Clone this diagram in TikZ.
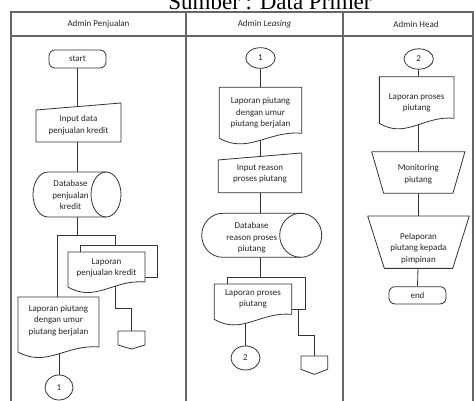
\documentclass[tikz,border=0pt]{standalone}
\usepackage{fontspec}
\setmainfont{Carlito}
\newfontfamily\titlefont{Liberation Serif}
\usetikzlibrary{calc,shapes.geometric}
\pgfdeclarelayer{bg}
\pgfdeclarelayer{shp}
\pgfsetlayers{bg,shp,main}
\tikzset{
  ln/.style={draw=black!80, line width=0.8pt},
  tbl/.style={draw=black!60, line width=1.3pt},
  txt/.style={font=\fontsize{9}{11.5}\selectfont, align=center, inner sep=0pt, text=black!85},
  area/.style 2 args={minimum width=#1pt, minimum height=#2pt, inner sep=0pt, outer sep=0pt},
  term/.style={txt, ln, fill=white, rounded corners=6pt, minimum width=57pt, minimum height=18pt},
  conn/.style={txt, ellipse, ln, fill=white, inner sep=0pt},
  fshape/.style={ln, fill=white, line join=round},
}
\newcommand\docshape[1]{%
  \path[fshape] (#1.north west) -- (#1.north east) -- ([yshift=5pt]#1.south east)
   .. controls ($(#1.south east)!0.4!(#1.south west)+(0pt,8pt)$) and ($(#1.south west)!0.35!(#1.south east)+(0pt,-16pt)$) .. (#1.south west) -- cycle;}
\newcommand\inshape[1]{\path[fshape] (#1.south west) -- ([yshift=-7pt]#1.north west) -- (#1.north east) -- (#1.south east) -- cycle;}
\newcommand\trapshape[2]{\path[fshape] (#1.north west) -- (#1.north east) -- ([xshift=-#2pt]#1.south east) -- ([xshift=#2pt]#1.south west) -- cycle;}
\newcommand\offshape[2]{\path[fshape] (#1.north west) -- (#1.north east) -- ([yshift=#2pt]#1.south east) -- (#1.south) -- ([yshift=#2pt]#1.south west) -- cycle;}
\newcommand\cylshape[2]{%
  \path[fshape] let \p1=(#1.north west), \p2=(#1.south east), \n1={(\y1-\y2)/2} in
   (\x1+#2pt,\y1) arc[start angle=90, end angle=270, x radius=#2pt, y radius=\n1]
   -- (\x2-#2pt,\y2) arc[start angle=-90, end angle=90, x radius=#2pt, y radius=\n1] -- cycle;
  \path[ln] let \p1=(#1.north west), \p2=(#1.south east), \n1={(\y1-\y2)/2} in
   (\x2-#2pt,\y1) arc[start angle=90, end angle=270, x radius=#2pt, y radius=\n1];}
\begin{document}
\begin{tikzpicture}[x=1pt,y=-1pt]
\useasboundingbox (0,0) rectangle (474,401);
\clip (0,0) rectangle (474,401);
% title (clipped)
\node[font=\titlefont\fontsize{23}{23}\selectfont, anchor=base, inner sep=0pt] (title) at (270,10) {Sumber : Data Primer};
% table
\draw[tbl] (11,410) -- (11,12) -- (473,12) -- (473,410);
\draw[tbl] (11,36) -- (473,36);
\draw[tbl] (186,12) -- (186,410);
\draw[tbl] (343,12) -- (343,410);
\node[txt] (h1) at (98.5,24) {Admin Penjualan};
\node[txt] (h2) at (264.5,24) {Admin \textit{Leasing}};
\node[txt] (h3) at (416,24) {Admin Head};

% ---- column 1
\node[term] (start) at (77.5,59) {start};
\node[area={85}{39}, label={[txt,yshift=-2.7pt]center:{Input data\\penjualan kredit}}] (in1) at (78.5,122.5) {};
\node[area={88}{45}, label={[txt,xshift=-6.5pt,yshift=-0.5pt]center:{Database\\penjualan\\kredit}}] (db1) at (77,194.5) {};
\node[area={77}{32}] (doc1b) at (118.5,261) {};
\node[area={77}{35}, label={[txt,yshift=1.5pt]center:{Laporan\\penjualan kredit}}] (doc1f) at (106.5,269.5) {};
\node[area={27}{18}] (off1) at (131.5,340) {};
\node[area={81}{55}, label={[txt,yshift=4.3pt]center:{Laporan piutang\\dengan umur\\piutang berjalan}}] (doc2) at (58.5,324.5) {};
\node[conn, minimum width=28pt, minimum height=25pt] (circ1) at (59,387.5) {1};
\coordinate (j1L) at (57,235);
\coordinate (j1R) at (115,235);
\coordinate (k1) at (131.5,308);

% ---- column 2
\node[conn, minimum width=29.4pt, minimum height=20.6pt] (c1) at (260.5,58) {1};
\node[area={82.4}{51}, label={[txt]center:{Laporan piutang\\dengan umur\\piutang berjalan}}] (doc3) at (260.5,112.8) {};
\node[area={83.4}{39.7}, label={[txt,yshift=-1.2pt]center:{Input reason\\proses piutang}}] (in2) at (260,172.8) {};
\node[area={120}{44}, label={[txt,xshift=-10pt,yshift=-2.5pt]center:{Database\\reason proses\\piutang}}] (db2) at (261.7,235.3) {};
\node[area={77.7}{32}] (doc5b) at (266.2,293.3) {};
\node[area={77.4}{35.3}, label={[txt,yshift=2.7pt]center:{Laporan proses\\piutang}}] (doc5f) at (253,301.7) {};
\node[conn, minimum width=29pt, minimum height=24pt] (c2) at (245.5,358) {2};
\node[area={26.7}{18.3}] (off2) at (314.3,365.2) {};
\coordinate (k2) at (298.3,335);

% ---- column 3
\node[conn, minimum width=29.4pt, minimum height=20.4pt] (c3) at (418.7,59) {2};
\node[area={74.7}{46.6}, label={[txt,yshift=-3pt]center:{Laporan proses\\piutang}}] (doc4) at (416.7,100) {};
\node[area={93.3}{41.6}, label={[txt,yshift=-1.5pt]center:{Monitoring\\piutang}}] (trap1) at (418.3,172.5) {};
\node[area={101.6}{52.3}, label={[txt,yshift=-6pt]center:{Pelaporan\\piutang kepada\\pimpinan}}] (trap2) at (418.5,242.2) {};
\node[term, minimum height=17.3pt] (endn) at (417.5,295.3) {end};

% ---- shapes
\begin{pgfonlayer}{shp}
\inshape{in1}
\cylshape{db1}{15}
\path[fshape] (doc1b.north west) rectangle (doc1b.south east);
\docshape{doc1f}
\offshape{off1}{4}
\docshape{doc2}
\docshape{doc3}
\inshape{in2}
\cylshape{db2}{21}
\path[fshape] (doc5b.north west) rectangle (doc5b.south east);
\docshape{doc5f}
\offshape{off2}{5}
\docshape{doc4}
\trapshape{trap1}{12}
\trapshape{trap2}{16.6}
\end{pgfonlayer}

% ---- connectors
\begin{pgfonlayer}{bg}
\draw[ln] (start.south) -- (start.south |- in1.center);
\draw[ln] (start.south |- in1.center) -- (start.south |- db1.center);
\draw[ln] (start.south |- db1.center) -- (start.south |- j1L);
\draw[ln] (j1L) -- (j1R);
\draw[ln] (j1L) -- (j1L |- doc2.center);
\draw[ln] (j1R) -- (j1R |- doc1b.center);
\draw[ln] (j1R |- doc1f.center) |- (k1) -- (off1.north);
\draw[ln] (circ1.north |- doc2.center) -- (circ1.north);

\draw[ln] (c1.south) -- (c1.south |- doc3.center);
\draw[ln] (c1.south |- doc3.center) -- (c1.south |- in2.center);
\draw[ln] (c1.south |- in2.center) -- (c1.south |- db2.center);
\draw[ln] (c1.south |- db2.center) -- (c1.south |- doc5b.center);
\draw[ln] (c2.north |- doc5f.center) -- (c2.north);
\draw[ln] (k2 |- doc5b.center) -- (k2) -| (off2.north);

\draw[ln] (c3.south) -- (c3.south |- doc4.center);
\draw[ln] (c3.south |- doc4.center) -- (c3.south |- trap1.center);
\draw[ln] (c3.south |- trap1.center) -- (c3.south |- trap2.center);
\draw[ln] (c3.south |- trap2.center) -- (endn.north);
\end{pgfonlayer}
\end{tikzpicture}
\end{document}
